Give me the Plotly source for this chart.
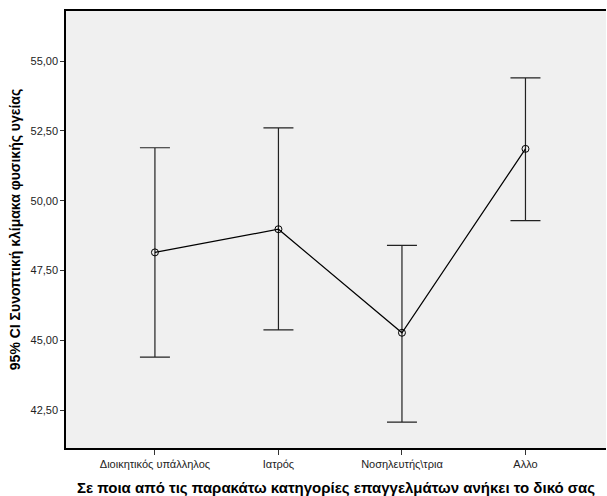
import plotly.graph_objects as go

# Occupational groups and 95% CI of the physical-health summary scale
categories = ["Διοικητικός υπάλληλος", "Ιατρός", "Νοσηλευτής\\τρια", "Αλλο"]
means = [48.15, 48.98, 45.27, 51.86]
ci_lower = [44.40, 45.37, 42.07, 49.29]
ci_upper = [51.90, 52.61, 48.40, 54.40]

y_ticks = [42.5, 45.0, 47.5, 50.0, 52.5, 55.0]

err_plus = [u - m for u, m in zip(ci_upper, means)]
err_minus = [m - l for m, l in zip(means, ci_lower)]

x_pos = list(range(len(categories)))

fig = go.Figure()
fig.add_trace(go.Scatter(
    x=x_pos,
    y=means,
    mode="lines+markers",
    line=dict(color="black", width=1.2),
    marker=dict(symbol="circle-open", size=7, color="black", line=dict(width=1)),
    error_y=dict(
        type="data",
        symmetric=False,
        array=err_plus,
        arrayminus=err_minus,
        color="#222222",
        thickness=1.2,
        width=15,
    ),
    showlegend=False,
    hoverinfo="skip",
))

font_family = "Liberation Sans, Arial, sans-serif"

fig.update_layout(
    width=607,
    height=496,
    margin=dict(l=66, r=1, t=11, b=48),
    paper_bgcolor="white",
    plot_bgcolor="#f0f0f0",
    separators=",.",
    font=dict(family=font_family, color="black"),
    xaxis=dict(
        range=[-0.72, 3.652],
        tickmode="array",
        tickvals=x_pos,
        ticktext=categories,
        tickfont=dict(size=11, color="#222222"),
        ticks="outside",
        ticklen=5,
        tickcolor="#333333",
        showline=True,
        linecolor="black",
        linewidth=1.5,
        mirror=True,
        showgrid=False,
        zeroline=False,
        automargin=False,
        title=dict(
            text="<b>Σε ποια από τις παρακάτω κατηγορίες επαγγελμάτων ανήκει το δικό σας</b>",
            font=dict(size=15, color="black"),
            standoff=14,
        ),
    ),
    yaxis=dict(
        range=[41.14, 56.80],
        tickmode="array",
        tickvals=y_ticks,
        tickformat=".2f",
        tickfont=dict(size=11, color="#222222"),
        ticks="outside",
        ticklen=4,
        tickcolor="#333333",
        showline=True,
        linecolor="black",
        linewidth=1.5,
        mirror=False,
        showgrid=False,
        zeroline=False,
        automargin=False,
        title=dict(
            text="<b>95% CI Συνοπτική κλίμακα φυσικής υγείας</b>",
            font=dict(size=14, color="black"),
            standoff=7,
        ),
    ),
)

fig.write_html("out.html")
